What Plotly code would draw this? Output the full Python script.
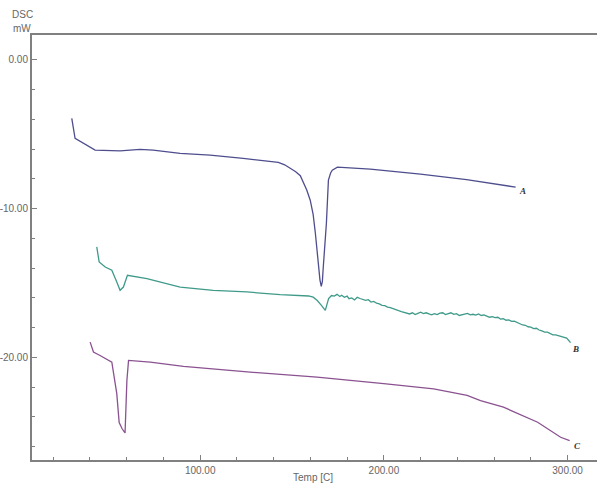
import plotly.graph_objects as go

# Curve A
a_temp = [30.1, 31.9, 42.8, 56.4, 67.3, 74.4, 89.1, 105.4, 123.4, 138.0, 142.5, 146.0, 149.0,
          152.0, 154.5, 156.1, 158.0, 159.9, 161.5, 162.7, 163.6, 164.3, 165.2, 165.9, 166.5,
          167.0, 168.0, 168.7, 169.3, 169.8, 171.0, 171.9, 174.7, 192.6, 219.9, 245.0, 271.7]
a_dsc = [-3.93, -5.27, -6.06, -6.11, -6.01, -6.06, -6.28, -6.40, -6.62, -6.80, -6.88, -7.05,
         -7.29, -7.52, -7.78, -8.20, -8.75, -9.43, -10.40, -11.65, -12.80, -13.94, -14.80,
         -15.22, -14.90, -13.94, -12.40, -10.98, -9.40, -8.08, -7.60, -7.41, -7.21, -7.34,
         -7.68, -8.05, -8.55]

# Curve B
b_temp = [43.7, 45.0, 48.3, 51.9, 54.6, 56.4, 58.2, 59.7, 60.4, 71.0, 89.1, 107.1, 125.4,
          143.6, 159.0, 161.5, 163.6, 166.0, 168.1, 169.9, 171.5, 173.0, 174.5, 176.0, 177.0,
          178.5, 180.0, 181.0, 182.5, 184.0, 185.5, 187.0, 188.5, 190.0, 191.5, 193.0, 194.5,
          196.0, 197.5, 199.0, 200.5, 202.0, 203.5, 205.0, 206.5, 208.0, 209.5, 211.0, 212.5,
          214.0, 215.5, 217.0, 218.5, 220.0, 221.5, 223.0, 224.5, 226.0, 227.5, 229.0, 230.5,
          232.0, 233.5, 235.0, 236.5, 238.0, 239.5, 241.0, 242.5, 244.0, 245.5, 247.0, 248.5,
          250.0, 251.5, 253.0, 254.5, 256.0, 257.5, 259.0, 260.5, 262.0, 263.5, 265.0, 266.5,
          268.0, 269.5, 271.0, 272.5, 274.0, 275.5, 277.0, 278.5, 280.0, 281.5, 283.0, 284.5,
          286.0, 287.5, 289.0, 290.5, 292.0, 293.5, 295.0, 296.5, 298.0, 299.5, 301.6]
b_dsc = [-12.57, -13.58, -13.92, -14.14, -14.93, -15.49, -15.27, -14.81, -14.48, -14.70,
         -15.27, -15.49, -15.60, -15.78, -15.87, -15.95, -16.16, -16.50, -16.84, -16.05,
         -15.84, -15.88, -15.76, -15.90, -15.82, -15.96, -15.88, -16.05, -16.00, -16.14,
         -15.96, -16.04, -16.10, -16.16, -16.12, -16.28, -16.24, -16.36, -16.40, -16.50,
         -16.52, -16.62, -16.66, -16.74, -16.80, -16.86, -16.92, -16.98, -17.02, -17.08,
         -17.00, -17.12, -17.04, -16.96, -17.06, -17.00, -17.08, -17.14, -17.06, -17.12,
         -17.02, -17.00, -17.12, -17.08, -17.00, -17.10, -17.06, -17.18, -17.12, -17.10,
         -17.04, -17.14, -17.10, -17.16, -17.08, -17.18, -17.14, -17.22, -17.30, -17.26,
         -17.32, -17.30, -17.42, -17.40, -17.50, -17.48, -17.58, -17.56, -17.64, -17.74,
         -17.82, -17.84, -17.94, -17.96, -18.06, -18.04, -18.16, -18.22, -18.30, -18.30,
         -18.40, -18.48, -18.48, -18.54, -18.56, -18.62, -18.70, -19.01]

# Curve C
c_temp = [40.1, 41.9, 45.5, 51.9, 54.6, 55.9, 57.5, 59.1, 60.1, 61.0, 72.8, 90.9, 127.2,
          163.6, 199.9, 227.1, 245.3, 252.6, 265.1, 283.7, 296.2, 301.1]
c_dsc = [-18.97, -19.64, -19.87, -20.32, -22.44, -24.38, -24.80, -25.08, -21.55, -20.20,
         -20.32, -20.61, -20.99, -21.33, -21.77, -22.11, -22.56, -22.90, -23.35, -24.36,
         -25.37, -25.59]

x_ticks = [100, 200, 300]
x_ticktext = ["100.00", "200.00", "300.00"]
y_ticks = [0, -10, -20]
y_ticktext = ["0.00", "-10.00", "-20.00"]

labels = ["A", "B", "C"]
label_x = [275.5, 304.4, 305.5]
label_y = [-8.82, -19.46, -25.99]
colors = ["#4e4e8e", "#3f9a8a", "#8a5290"]

W, H = 597, 484
ML, MR, MT, MB = 32, 0, 35, 24

fig = go.Figure()
for t, d, c in [(a_temp, a_dsc, colors[0]), (b_temp, b_dsc, colors[1]), (c_temp, c_dsc, colors[2])]:
    fig.add_trace(go.Scatter(x=t, y=d, mode="lines", line=dict(color=c, width=1.3),
                             showlegend=False, hoverinfo="skip"))

for lab, lx, ly in zip(labels, label_x, label_y):
    fig.add_annotation(x=lx, y=ly, text="<b><i>" + lab + "</i></b>", showarrow=False,
                       xanchor="center", yanchor="middle",
                       font=dict(family="Liberation Serif", size=9, color="#333333"))

# figure-pixel positions converted to paper coords (paper spans the plot area)
for txt, px, py in [("DSC", 22, 15), ("mW", 22, 28), ("Temp [C]", 313, 477)]:
    fig.add_annotation(x=(px - ML) / (W - ML - MR), y=1 - (py - MT) / (H - MT - MB),
                       xref="paper", yref="paper", text=txt, showarrow=False,
                       xanchor="center", yanchor="middle",
                       font=dict(family="Liberation Sans", size=10, color="#666666"))

fig.update_layout(
    width=W, height=H,
    margin=dict(l=ML, r=MR, t=MT, b=MB, autoexpand=False),
    paper_bgcolor="white", plot_bgcolor="white",
    font=dict(family="Liberation Sans", size=10, color="#666666"),
    xaxis=dict(range=[8.45, 316], showgrid=False, zeroline=False, automargin=False,
               showline=True, linecolor="#808080", linewidth=2, mirror=True,
               tickmode="array", tickvals=x_ticks, ticktext=x_ticktext,
               ticks="inside", ticklen=5, tickcolor="#808080", tickwidth=1,
               minor=dict(tickmode="linear", dtick=20, tick0=0, ticks="inside", ticklen=3,
                          tickcolor="#808080"),
               tickfont=dict(size=10, color="#666666")),
    yaxis=dict(range=[-26.9, 1.68], showgrid=False, zeroline=False, automargin=False,
               showline=True, linecolor="#808080", linewidth=2, mirror=False,
               tickmode="array", tickvals=y_ticks, ticktext=y_ticktext,
               ticks="inside", ticklen=5, tickcolor="#808080", tickwidth=1,
               minor=dict(tickmode="linear", dtick=2, tick0=0, ticks="inside", ticklen=3,
                          tickcolor="#808080"),
               tickfont=dict(size=10, color="#666666")),
)

fig.write_html("out.html", config={"displayModeBar": False},
               post_script="document.body.style.margin='0';document.body.style.overflow='hidden';")
